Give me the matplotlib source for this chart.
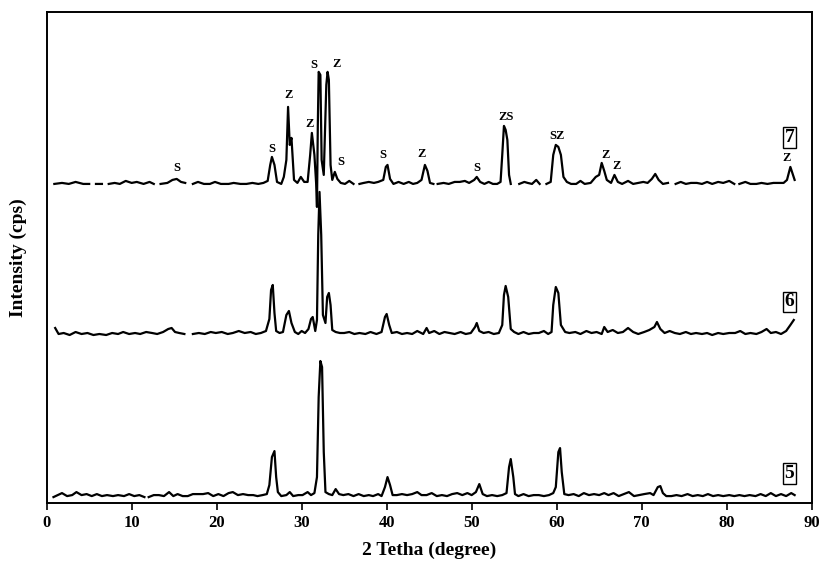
import numpy as np
import matplotlib
matplotlib.use("Agg")
import matplotlib.pyplot as plt

nan = np.nan

# sample 7 (top trace), 2theta and intensity above its own baseline
x7 = [0.9, 1.8, 2.6, 3.4, 4.3, 5.0, nan, 5.8, 6.5, nan, 7.3, 8.0, 8.6, 9.3, 10.0, 10.6, 11.4, 12.1, 12.6, nan,
      13.4, 14.2, 14.8, 15.3, 15.8, 16.3, nan, 17.2, 17.8, 18.5, 19.2, 19.8, 20.5, 21.4, 22.0, 22.8, 23.5, 24.2,
      24.9, 25.5, 26.0, 26.3, 26.5, 26.8, 27.1, 27.6, 27.9, 28.2, 28.4, 28.6, 28.8, 29.1, 29.5, 29.9, 30.3, 30.7,
      31.0, 31.2, 31.5, 31.7, 31.8, 31.9, 32.0, 32.2, 32.35, 32.6, 32.9, 33.05, 33.2, 33.4, 33.6, 33.9, 34.2, 34.6,
      35.1, 35.6, 36.1, nan, 36.8, 37.3, 37.9, 38.5, 39.0, 39.6, 39.9, 40.1, 40.4, 40.8, 41.4, 42.0, 42.6, 43.1,
      43.6, 44.1, 44.5, 44.8, 45.1, 45.5, nan, 46.0, 46.7, 47.3, 48.0, 48.6, 49.2, 49.7, 50.3, 50.6, 51.0, 51.5,
      52.0, 52.5, 53.0, 53.4, 53.6, 53.8, 54.0, 54.2, 54.4, 54.6, nan, 55.6, 56.2, 56.6, 57.1, 57.6, 58.0, nan,
      58.8, 59.3, 59.6, 59.9, 60.2, 60.5, 60.8, 61.2, 61.7, 62.3, 62.8, 63.3, 64.0, 64.6, 65.0, 65.3, 65.6, 65.9,
      66.4, 66.8, 67.2, 67.7, 68.4, 69.0, 69.6, 70.2, 70.7, 71.2, 71.6, 72.0, 72.5, 73.1, nan, 74.0, 74.6, 75.2,
      75.8, 76.5, 77.1, 77.7, 78.3, 79.0, 79.6, 80.3, 80.9, nan, 81.5, 82.2, 82.8, 83.5, 84.1, 84.8, 85.5, 86.1,
      86.7, 87.1, 87.5, 87.8, 88.0]
y7 = [1, 2, 1, 3, 1, 1, nan, 1, 1, nan, 1, 2, 1, 4, 2, 3, 1, 3, 1, nan,
      1, 2, 5, 6, 3, 2, nan, 1, 3, 1, 1, 3, 1, 1, 2, 1, 1, 2,
      1, 2, 4, 20, 28, 20, 3, 1, 8, 25, 78, 40, 47, 5, 2, 8, 3, 3,
      30, 52, 30, 2, -22, 60, 113, 110, 25, 10, 100, 113, 105, 20, 5, 13, 6, 2,
      1, 4, 1, nan, 1, 2, 3, 2, 3, 5, 18, 20, 6, 1, 3, 1, 3, 1,
      2, 5, 20, 14, 2, 1, nan, 1, 2, 1, 3, 3, 4, 2, 5, 8, 3, 1,
      3, 1, 1, 3, 30, 59, 55, 45, 10, 1, nan, 1, 3, 2, 1, 5, 1, nan,
      1, 3, 30, 40, 38, 30, 8, 3, 1, 1, 4, 1, 2, 8, 10, 22, 14, 5,
      2, 10, 3, 1, 4, 1, 2, 3, 2, 6, 11, 5, 1, 2, nan, 1, 3, 1,
      2, 2, 1, 3, 1, 3, 2, 4, 1, nan, 1, 3, 1, 1, 2, 1, 2, 2,
      2, 5, 18, 10, 5]

# sample 6 (middle trace)
x6 = [1.0, 1.4, 2.0, 2.7, 3.4, 4.1, 4.8, 5.5, 6.2, 7.0, 7.7, 8.4, 9.0, 9.7, 10.4, 11.0, 11.7, 12.4, 13.0, 13.7,
      14.3, 14.7, 15.1, 15.6, 16.2, nan, 17.2, 17.9, 18.6, 19.3, 19.9, 20.6, 21.3, 21.9, 22.6, 23.3, 24.0, 24.6,
      25.2, 25.8, 26.2, 26.4, 26.6, 26.8, 27.0, 27.4, 27.8, 28.2, 28.5, 28.8, 29.2, 29.6, 30.0, 30.4, 30.8, 31.1,
      31.3, 31.6, 31.8, 31.95, 32.1, 32.3, 32.5, 32.8, 33.0, 33.2, 33.4, 33.6, 34.0, 34.5, 35.0, 35.6, 36.2, 36.8,
      37.5, 38.1, 38.8, 39.4, 39.8, 40.0, 40.3, 40.6, 41.2, 41.8, 42.4, 43.0, 43.6, 44.3, 44.7, 45.0, 45.6, 46.2,
      46.8, 47.4, 48.0, 48.7, 49.3, 49.9, 50.4, 50.6, 50.9, 51.4, 52.0, 52.6, 53.2, 53.6, 53.8, 54.0, 54.3, 54.6,
      55.0, 55.5, 56.1, 56.7, 57.3, 57.9, 58.5, 59.0, 59.4, 59.6, 59.9, 60.2, 60.5, 61.0, 61.5, 62.2, 62.8, 63.5,
      64.1, 64.7, 65.3, 65.6, 66.0, 66.6, 67.2, 67.8, 68.4, 69.0, 69.6, 70.3, 70.9, 71.5, 71.8, 72.2, 72.7, 73.3,
      73.9, 74.5, 75.2, 75.8, 76.4, 77.1, 77.7, 78.3, 79.0, 79.6, 80.3, 81.0, 81.6, 82.2, 82.8, 83.5, 84.1, 84.7,
      85.2, 85.8, 86.4, 87.0, 87.5, 87.9]
y6 = [7, 1, 2, 0, 3, 1, 2, 0, 1, 0, 2, 1, 3, 1, 2, 1, 3, 2, 1, 3,
      6, 7, 3, 2, 1, nan, 1, 2, 1, 3, 2, 3, 1, 2, 4, 2, 3, 1,
      2, 4, 16, 45, 50, 22, 4, 2, 3, 20, 24, 12, 3, 1, 4, 2, 6, 16,
      18, 4, 15, 100, 143, 100, 20, 12, 38, 42, 30, 5, 3, 2, 2, 3, 1, 2,
      1, 3, 1, 3, 18, 21, 10, 2, 3, 1, 2, 1, 4, 1, 7, 2, 4, 1,
      3, 2, 1, 3, 1, 2, 8, 12, 4, 2, 3, 1, 2, 10, 40, 49, 38, 6,
      3, 1, 3, 1, 2, 2, 4, 1, 3, 30, 48, 42, 10, 3, 2, 3, 1, 4,
      2, 3, 1, 8, 3, 5, 2, 3, 7, 3, 1, 3, 5, 8, 13, 6, 2, 4,
      2, 1, 3, 1, 2, 1, 2, 0, 2, 1, 2, 2, 4, 1, 2, 1, 3, 6,
      2, 3, 1, 4, 10, 15]

# sample 5 (bottom trace)
x5 = [0.8, 1.3, 1.8, 2.4, 3.0, 3.5, 4.1, 4.7, 5.3, 5.9, 6.5, 7.1, 7.8, 8.4, 9.1, 9.7, 10.3, 10.9, 11.5, nan,
      12.0, 12.6, 13.2, 13.8, 14.4, 14.9, 15.4, 16.0, 16.6, 17.2, 17.8, 18.4, 19.0, 19.6, 20.2, 20.8, 21.4, 21.9,
      22.5, 23.1, 23.7, 24.3, 24.8, 25.4, 25.9, 26.2, 26.5, 26.8, 27.0, 27.2, 27.6, 28.2, 28.6, 29.0, 29.6, 30.1,
      30.7, 31.1, 31.5, 31.8, 32.0, 32.2, 32.4, 32.6, 32.8, 33.2, 33.6, 34.0, 34.4, 34.9, 35.5, 36.1, 36.7, 37.3,
      37.9, 38.4, 39.0, 39.4, 39.8, 40.1, 40.4, 40.7, 41.2, 41.8, 42.4, 43.0, 43.6, 44.1, 44.7, 45.3, 45.9, 46.5,
      47.1, 47.7, 48.3, 48.9, 49.5, 50.0, 50.5, 50.9, 51.3, 51.8, 52.4, 53.0, 53.6, 54.1, 54.4, 54.6, 54.9, 55.1,
      55.5, 56.1, 56.7, 57.3, 57.9, 58.5, 59.1, 59.6, 59.9, 60.2, 60.4, 60.6, 60.9, 61.4, 62.0, 62.6, 63.2, 63.8,
      64.4, 65.0, 65.6, 66.1, 66.7, 67.3, 67.9, 68.5, 69.1, 69.7, 70.3, 71.0, 71.4, 71.9, 72.2, 72.5, 72.9, 73.5,
      74.1, 74.7, 75.4, 76.0, 76.6, 77.2, 77.8, 78.4, 79.0, 79.6, 80.3, 80.9, 81.5, 82.1, 82.7, 83.4, 84.0, 84.6,
      85.2, 85.8, 86.4, 87.0, 87.6, 88.0]
y5 = [0, 2, 4, 1, 2, 5, 2, 3, 1, 3, 1, 2, 1, 2, 1, 3, 1, 2, 0, nan,
      0, 2, 2, 1, 5, 1, 3, 1, 1, 3, 3, 3, 4, 1, 3, 1, 4, 5,
      2, 3, 2, 2, 1, 2, 3, 12, 40, 46, 20, 5, 1, 2, 5, 1, 2, 2,
      5, 2, 4, 20, 100, 136, 130, 45, 5, 3, 2, 8, 3, 2, 3, 1, 3, 1,
      2, 1, 3, 1, 10, 20, 12, 2, 2, 3, 2, 3, 5, 2, 2, 4, 1, 2,
      1, 3, 4, 2, 4, 2, 5, 13, 3, 1, 2, 1, 2, 4, 30, 38, 20, 3,
      1, 3, 1, 2, 2, 1, 2, 4, 10, 45, 49, 25, 3, 2, 3, 1, 4, 2,
      3, 2, 4, 2, 4, 1, 3, 5, 1, 2, 3, 4, 2, 10, 11, 4, 1, 1,
      2, 1, 3, 1, 2, 1, 3, 1, 2, 1, 2, 1, 2, 1, 2, 1, 3, 1,
      4, 1, 3, 1, 4, 2]

offsets = [6, 168, 318]          # baseline of samples 5, 6, 7
sample_names = ["5", "6", "7"]
name_y = [30, 201, 365]

# phase labels on sample 7
peak_labels = ["S", "S", "Z", "Z", "S", "Z", "S", "S", "Z", "S", "ZS", "SZ", "Z", "Z", "Z"]
peak_x = [15.3, 26.5, 28.5, 30.9, 31.4, 34.1, 34.6, 39.6, 44.1, 50.6, 54.1, 60.1, 65.7, 67.1, 87.0]
peak_y = [335, 354, 408, 379, 438, 439, 341, 348, 349, 335, 386, 367, 348, 337, 345]

plt.rcParams['font.family'] = ['Liberation Serif', 'DejaVu Serif']
plt.rcParams['font.weight'] = 'bold'

fig = plt.figure(figsize=(8.19, 5.64), dpi=100)
ax = fig.add_axes([0.057, 0.108, 0.934, 0.871])

for xs, ys, off in zip([x5, x6, x7], [y5, y6, y7], offsets):
    ax.plot(xs, np.array(ys, dtype=float) + off, color="black", lw=1.6)

for lab, px, py in zip(peak_labels, peak_x, peak_y):
    ax.text(px, py, lab, ha="center", va="center", fontsize=9, fontweight="bold")

for nm, ny in zip(sample_names, name_y):
    ax.text(87.4, ny, nm, ha="center", va="center", fontsize=14, fontweight="bold",
            bbox=dict(boxstyle="square,pad=0.1", fc="white", ec="black", lw=1))

ax.set_xlim(0, 90)
ax.set_ylim(0, 491)
ax.set_xticks(np.arange(0, 91, 10))
ax.set_yticks([])
ax.tick_params(axis="x", direction="out", length=5, width=1.2, labelsize=12)
for lbl in ax.get_xticklabels():
    lbl.set_fontweight("bold")
for sp in ax.spines.values():
    sp.set_linewidth(1.4)
ax.set_xlabel("2 Tetha (degree)", fontsize=14, fontweight="bold", labelpad=8)
ax.set_ylabel("Intensity (cps)", fontsize=14, fontweight="bold", labelpad=14)

fig.savefig("out.png", dpi=100)
